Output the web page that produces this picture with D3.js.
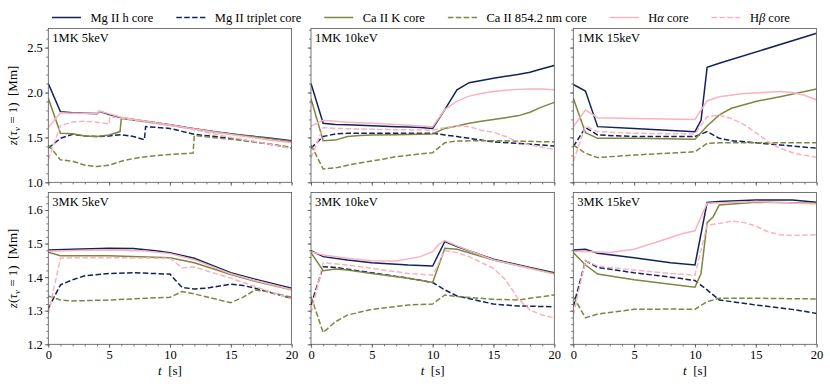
<!DOCTYPE html>
<html>
<head>
<meta charset="utf-8">
<script src="https://cdn.jsdelivr.net/npm/d3@7"></script>
<style>
  body { margin: 0; background: #fff; }
  text { font-family: 'Liberation Serif', 'Times New Roman', serif; fill: #000; }
</style>
</head>
<body>
<div id="chart"></div>
<script>
// legend labels, '|' marks the italic greek part
const lineNames = ['Mg II h core', 'Mg II triplet core', 'Ca II K core', 'Ca II 854.2 nm core', 'H|α| core', 'H|β| core']
const lineColors = ['#14225c', '#14225c', '#7d8642', '#7d8642', '#f9b3be', '#f9b3be']
const lineDashed = [false, true, false, true, false, true]

const panelTitles = ['1MK 5keV', '1MK 10keV', '1MK 15keV', '3MK 5keV', '3MK 10keV', '3MK 15keV']

const xTicks = [0, 5, 10, 15, 20]
const yTicksTop = [1.0, 1.5, 2.0, 2.5]
const yTicksBottom = [1.2, 1.3, 1.4, 1.5, 1.6]

// each panel: [mgH, mgTriplet, caK, ca854, halpha, hbeta], points are [t, z]
const panel1 = [
  [[0, 2.10], [1, 1.785], [2, 1.775], [3, 1.77], [4, 1.765], [4.2, 1.79], [5, 1.755], [6, 1.72], [8, 1.68], [10, 1.64], [12, 1.597], [14, 1.558], [16, 1.525], [18, 1.495], [20, 1.462]],
  [[0, 1.38], [1, 1.49], [2, 1.535], [3, 1.515], [4, 1.51], [5, 1.516], [6, 1.53], [7, 1.51], [7.9, 1.475], [8, 1.62], [10, 1.60], [12, 1.535], [15, 1.49], [18, 1.43], [20, 1.38]],
  [[0, 1.935], [1, 1.546], [2, 1.54], [3, 1.516], [4, 1.51], [5, 1.527], [5.9, 1.565], [6, 1.71], [8, 1.675], [10, 1.635], [12, 1.593], [14, 1.555], [16, 1.522], [18, 1.49], [20, 1.455]],
  [[0, 1.416], [1, 1.25], [2, 1.235], [3, 1.19], [4, 1.175], [5, 1.19], [6, 1.235], [7, 1.265], [8, 1.285], [10, 1.31], [11.9, 1.325], [12, 1.52], [15, 1.48], [18, 1.43], [20, 1.39]],
  [[0, 1.61], [1, 1.775], [2, 1.77], [3, 1.765], [4, 1.765], [4.2, 1.795], [5, 1.762], [6, 1.725], [8, 1.68], [10, 1.638], [12, 1.594], [14, 1.552], [16, 1.512], [18, 1.475], [20, 1.44]],
  [[0, 1.25], [1, 1.63], [2, 1.672], [3, 1.68], [4, 1.67], [5, 1.65], [5.05, 1.73], [6, 1.715], [8, 1.675], [10, 1.635], [12, 1.585], [15, 1.5], [18, 1.43], [20, 1.375]]
]

const panel2 = [
  [[0, 2.10], [1, 1.657], [2, 1.645], [3, 1.64], [4, 1.635], [5, 1.63], [6, 1.625], [7, 1.62], [8, 1.615], [9, 1.61], [10, 1.60], [11, 1.81], [12, 2.03], [13, 2.11], [14, 2.135], [15, 2.16], [16, 2.18], [17, 2.20], [18, 2.225], [19, 2.265], [20, 2.30]],
  [[0, 1.38], [1, 1.51], [2, 1.538], [3, 1.546], [5, 1.546], [10, 1.546], [11, 1.527], [12, 1.51], [13, 1.49], [14, 1.47], [15, 1.45], [17, 1.434], [20, 1.405]],
  [[0, 1.93], [1, 1.464], [2, 1.47], [3, 1.51], [4, 1.52], [5, 1.527], [7, 1.53], [10, 1.538], [11, 1.60], [12, 1.627], [13, 1.657], [14, 1.68], [15, 1.70], [16, 1.72], [17, 1.74], [18, 1.78], [19, 1.84], [20, 1.89]],
  [[0, 1.416], [1, 1.148], [2, 1.16], [3, 1.19], [4, 1.215], [5, 1.237], [6, 1.26], [7, 1.286], [8, 1.30], [9, 1.316], [10, 1.33], [11, 1.44], [12, 1.46], [15, 1.464], [20, 1.45]],
  [[0, 1.627], [1, 1.69], [2, 1.68], [3, 1.67], [5, 1.657], [7, 1.645], [10, 1.62], [11, 1.81], [12, 1.905], [13, 1.96], [14, 1.99], [15, 2.01], [16, 2.025], [17, 2.035], [18, 2.04], [19, 2.04], [20, 2.03]],
  [[0, 1.27], [1, 1.61], [2, 1.60], [5, 1.59], [10, 1.58], [11, 1.61], [12, 1.627], [13, 1.62], [14, 1.58], [15, 1.557], [16, 1.51], [17, 1.45], [18, 1.416], [19, 1.39], [20, 1.367]]
]

const panel3 = [
  [[0, 2.09], [1, 2.017], [2, 1.62], [5, 1.60], [10, 1.564], [10.5, 1.69], [11, 2.28], [12, 2.325], [20, 2.66]],
  [[0, 1.397], [1, 1.61], [2, 1.527], [5, 1.51], [10, 1.51], [11, 1.564], [12, 1.49], [13, 1.464], [15, 1.44], [17, 1.416], [20, 1.38]],
  [[0, 1.935], [1, 1.553], [2, 1.49], [5, 1.49], [10, 1.48], [11, 1.627], [12, 1.75], [13, 1.824], [15, 1.90], [17, 1.954], [20, 2.04]],
  [[0, 1.416], [1, 1.323], [2, 1.275], [5, 1.304], [10, 1.34], [11, 1.434], [12, 1.44], [20, 1.44]],
  [[0, 1.62], [1, 1.805], [2, 1.72], [5, 1.71], [10, 1.70], [11, 1.906], [12, 1.954], [14, 1.99], [17, 2.01], [18, 2.0], [19, 1.97], [20, 1.917]],
  [[0, 1.23], [1, 1.627], [2, 1.564], [5, 1.546], [10, 1.538], [11, 1.73], [12, 1.75], [13, 1.71], [14, 1.646], [15, 1.553], [16, 1.453], [17, 1.38], [18, 1.33], [19, 1.30], [20, 1.28]]
]

const panel4 = [
  [[0, 1.481], [2, 1.483], [5, 1.486], [7, 1.485], [9, 1.478], [10, 1.473], [12, 1.456], [15, 1.413], [17, 1.394], [20, 1.367]],
  [[0, 1.307], [1, 1.377], [2, 1.392], [3, 1.404], [5, 1.411], [7, 1.413], [10, 1.409], [11, 1.369], [12, 1.365], [13, 1.367], [15, 1.379], [16, 1.375], [17, 1.367], [18, 1.357], [20, 1.337]],
  [[0, 1.474], [1, 1.464], [5, 1.464], [10, 1.458], [12, 1.443], [15, 1.408], [17, 1.388], [20, 1.362]],
  [[0, 1.344], [1, 1.332], [2, 1.329], [5, 1.332], [8, 1.337], [10, 1.34], [11, 1.357], [12, 1.35], [15, 1.324], [16, 1.34], [17, 1.362], [18, 1.357], [20, 1.34]],
  [[0, 1.477], [2, 1.479], [5, 1.481], [8, 1.478], [10, 1.47], [12, 1.452], [15, 1.41], [17, 1.39], [20, 1.363]],
  [[0, 1.29], [1, 1.456], [2, 1.458], [5, 1.458], [10, 1.456], [11, 1.428], [12, 1.43], [15, 1.397], [17, 1.372], [20, 1.335]]
]

const panel5 = [
  [[0, 1.479], [1, 1.461], [3, 1.451], [5, 1.443], [8, 1.436], [10, 1.433], [11, 1.506], [12, 1.491], [15, 1.453], [18, 1.429], [20, 1.413]],
  [[0, 1.317], [1, 1.431], [2, 1.429], [5, 1.413], [8, 1.397], [10, 1.384], [11, 1.362], [12, 1.344], [15, 1.32], [17, 1.314], [20, 1.312]],
  [[0, 1.473], [1, 1.419], [2, 1.424], [3, 1.421], [5, 1.411], [8, 1.397], [10, 1.384], [11, 1.486], [12, 1.483], [15, 1.451], [20, 1.411]],
  [[0, 1.342], [1, 1.235], [2, 1.267], [3, 1.287], [5, 1.304], [8, 1.317], [10, 1.32], [11, 1.347], [12, 1.342], [15, 1.334], [17, 1.332], [20, 1.347]],
  [[0, 1.476], [1, 1.466], [3, 1.456], [5, 1.449], [7, 1.448], [9, 1.461], [10, 1.476], [10.5, 1.498], [11, 1.509], [12, 1.493], [15, 1.451], [20, 1.409]],
  [[0, 1.292], [1, 1.443], [3, 1.436], [5, 1.426], [8, 1.411], [10, 1.406], [11, 1.479], [12, 1.473], [13, 1.461], [15, 1.426], [16, 1.392], [17, 1.337], [18, 1.302], [19, 1.287], [20, 1.279]]
]

const panel6 = [
  [[0, 1.481], [1, 1.483], [2, 1.471], [5, 1.458], [8, 1.443], [10, 1.436], [11, 1.622], [12, 1.625], [15, 1.63], [18, 1.63], [20, 1.623]],
  [[0, 1.312], [1, 1.449], [2, 1.429], [5, 1.413], [8, 1.4], [10, 1.39], [11, 1.362], [12, 1.332], [15, 1.317], [18, 1.304], [20, 1.292]],
  [[0, 1.473], [1, 1.436], [2, 1.409], [5, 1.392], [8, 1.379], [10, 1.37], [10.5, 1.411], [11, 1.562], [11.5, 1.58], [12, 1.615], [15, 1.623], [20, 1.62]],
  [[0, 1.342], [1, 1.279], [2, 1.29], [5, 1.304], [8, 1.305], [10, 1.304], [11, 1.327], [12, 1.337], [15, 1.337], [20, 1.335]],
  [[0, 1.476], [1, 1.476], [3, 1.473], [5, 1.483], [7, 1.506], [9, 1.53], [10, 1.538], [11, 1.62], [15, 1.625], [20, 1.618]],
  [[0, 1.287], [1, 1.449], [2, 1.433], [5, 1.421], [8, 1.411], [10, 1.406], [11, 1.555], [12, 1.56], [13, 1.567], [14, 1.563], [15, 1.552], [16, 1.535], [17, 1.526], [18, 1.524], [20, 1.526]]
]

const panels = [panel1, panel2, panel3, panel4, panel5, panel6]

const width = 830
const height = 386
const colLeft = [48.3, 311, 573.3]
const panelWidth = 243.3
const rowTop = [28.5, 192.5]
const rowBottom = [182.3, 344.3]
const spineColor = '#555'
const serif = "'Liberation Serif', 'Times New Roman', serif"

const svg = d3
  .select('#chart')
  .append('svg')
  .attr('width', width)
  .attr('height', height)

const xScales = colLeft.map(x0 =>
  d3.scaleLinear().domain([0, 20]).range([x0, x0 + panelWidth])
)
const yScales = [
  d3.scaleLinear().domain([1.0, 2.713]).range([rowBottom[0], rowTop[0]]),
  d3.scaleLinear().domain([1.2, 1.652]).range([rowBottom[1], rowTop[1]])
]
const yMajor = [yTicksTop, yTicksBottom]
const yMinor = [d3.range(1.0, 2.71, 0.1), d3.range(1.2, 1.651, 0.02)]
const xMinor = d3.range(0, 21, 1)

panels.forEach(function(series, i) {
  const row = Math.floor(i / 3)
  const col = i % 3
  const x = xScales[col]
  const y = yScales[row]
  const g = svg.append('g')

  g.append('clipPath')
    .attr('id', 'clip' + i)
    .append('rect')
    .attr('x', x.range()[0])
    .attr('y', rowTop[row])
    .attr('width', panelWidth)
    .attr('height', rowBottom[row] - rowTop[row])

  // minor + major ticks
  const xAxisMinor = d3.axisBottom(x).tickValues(xMinor).tickSize(2).tickFormat('')
  const xAxis = d3.axisBottom(x).tickValues(xTicks).tickSize(3.5).tickPadding(2.5)
    .tickFormat(row === 1 ? d3.format('d') : '')
  const yAxisMinor = d3.axisLeft(y).tickValues(yMinor[row]).tickSize(2).tickFormat('')
  const yAxis = d3.axisLeft(y).tickValues(yMajor[row]).tickSize(3.5).tickPadding(2)
    .tickFormat(col === 0 ? d3.format('.1f') : '')

  const axes = [
    [xAxisMinor, 'translate(0,' + rowBottom[row] + ')'],
    [xAxis, 'translate(0,' + rowBottom[row] + ')'],
    [yAxisMinor, 'translate(' + x.range()[0] + ',0)'],
    [yAxis, 'translate(' + x.range()[0] + ',0)']
  ]
  axes.forEach(function(a) {
    const ag = g.append('g').attr('transform', a[1]).call(a[0])
    ag.attr('font-family', null)
    ag.select('.domain').remove()
    ag.selectAll('line').attr('stroke', spineColor).attr('stroke-width', 0.8)
    ag.selectAll('text')
      .attr('font-size', 12.5)
      .style('font-family', serif)
      .attr('fill', '#000')
  })

  const line = d3
    .line()
    .x(d => x(d[0]))
    .y(d => y(d[1]))

  g.append('g')
    .attr('clip-path', 'url(#clip' + i + ')')
    .selectAll('path')
    .data(series)
    .enter()
    .append('path')
    .attr('d', d => line(d))
    .attr('fill', 'none')
    .attr('stroke', (d, k) => lineColors[k])
    .attr('stroke-width', 1.5)
    .attr('stroke-dasharray', (d, k) => (lineDashed[k] ? '5.5,2.4' : null))

  g.append('rect')
    .attr('x', x.range()[0])
    .attr('y', rowTop[row])
    .attr('width', panelWidth)
    .attr('height', rowBottom[row] - rowTop[row])
    .attr('fill', 'none')
    .attr('stroke', spineColor)
    .attr('stroke-width', 0.8)

  g.append('text')
    .text(panelTitles[i])
    .attr('x', x.range()[0] + 4)
    .attr('y', rowTop[row] + 13.5)
    .attr('font-size', 12.5)
    .style('font-family', serif)

  if (row === 1) {
    const xl = g.append('text')
      .attr('x', (x.range()[0] + x.range()[1]) / 2)
      .attr('y', 375)
      .attr('font-size', 13)
      .attr('text-anchor', 'middle')
      .style('font-family', serif)
    xl.append('tspan').attr('font-style', 'italic').text('t')
    xl.append('tspan').text('\u00a0\u00a0[s]')
  }

  if (col === 0) {
    const cy = (rowTop[row] + rowBottom[row]) / 2
    const yl = g.append('text')
      .attr('transform', 'translate(17,' + cy + ') rotate(-90)')
      .attr('font-size', 13)
      .attr('text-anchor', 'middle')
      .style('font-family', serif)
    yl.append('tspan').attr('font-style', 'italic').text('z')
    yl.append('tspan').text('(')
    yl.append('tspan').attr('font-style', 'italic').text('τ')
    yl.append('tspan').attr('font-style', 'italic').attr('font-size', 9).attr('dy', 3).text('ν')
    yl.append('tspan').attr('dy', -3).text('\u00a0=\u00a01)\u00a0\u00a0[Mm]')
  }
})

// legend along the top
let lx = 52
const legendY = 17.5
lineNames.forEach(function(name, k) {
  const lg = svg.append('g')
  lg.append('line')
    .attr('x1', lx)
    .attr('x2', lx + 29)
    .attr('y1', legendY)
    .attr('y2', legendY)
    .attr('stroke', lineColors[k])
    .attr('stroke-width', 1.5)
    .attr('stroke-dasharray', lineDashed[k] ? '5.5,2.4' : null)
  const t = lg.append('text')
    .attr('x', lx + 38.5)
    .attr('y', legendY + 4)
    .attr('font-size', 12.5)
    .style('font-family', serif)
  name.split('|').forEach(function(part, j) {
    t.append('tspan').attr('font-style', j === 1 ? 'italic' : null).text(part)
  })
  lx = lx + 38.5 + t.node().getComputedTextLength() + 23
})
</script>
</body>
</html>
